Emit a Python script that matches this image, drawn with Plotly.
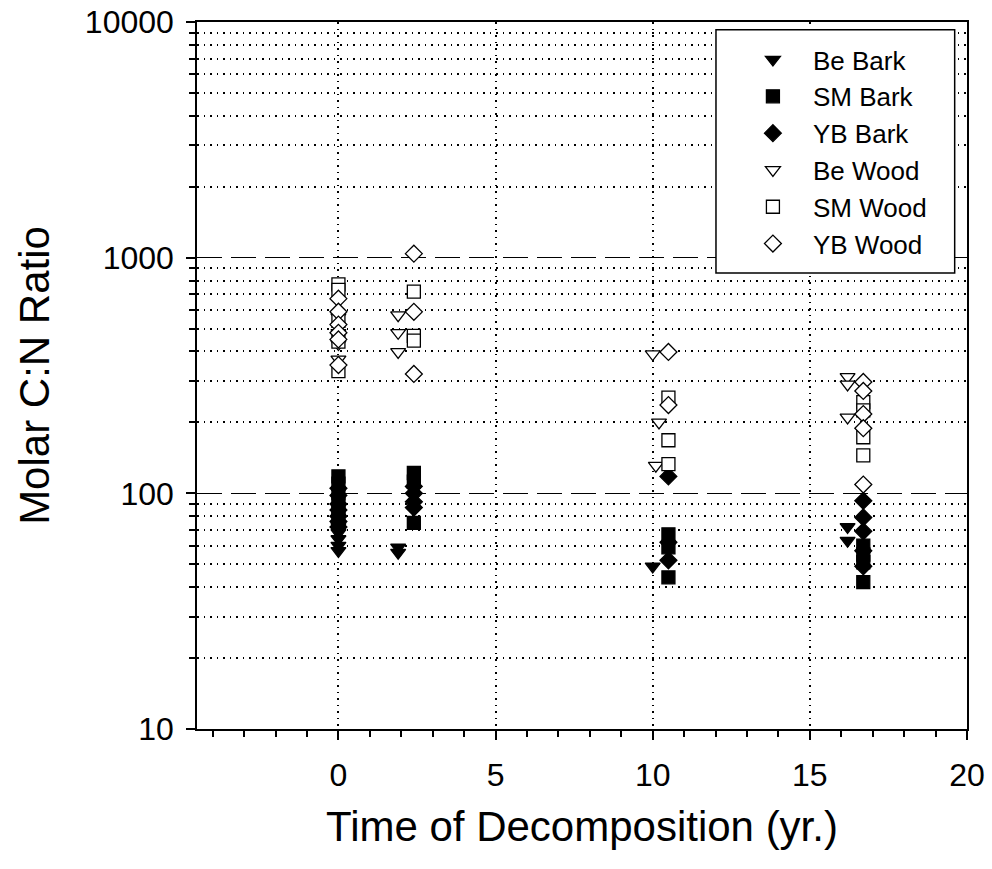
import plotly.graph_objects as go

# ---- data ----
be_bark_x = [0, 0, 0, 0, 0, 0, 1.9, 1.9, 10.0, 16.2, 16.2]
be_bark_y = [78, 72, 68, 64, 60, 57, 59, 56, 49, 72, 63]

sm_bark_x = [0, 0, 0, 0, 0, 0, 2.4, 2.4, 2.4, 10.5, 10.5, 10.5, 16.7, 16.7, 16.7, 16.7]
sm_bark_y = [118, 110, 100, 92, 85, 80, 122, 112, 75, 67, 59, 44, 60, 55, 51, 42]

yb_bark_x = [0, 0, 0, 0, 0, 0, 0, 2.4, 2.4, 2.4, 2.4, 10.5, 10.5, 10.5, 16.7, 16.7, 16.7, 16.7, 16.7]
yb_bark_y = [105, 98, 90, 85, 80, 76, 72, 107, 100, 92, 87, 118, 62, 52, 93, 79, 69, 57, 49]

be_wood_x = [0, 0, 0, 0, 1.9, 1.9, 1.9, 10.0, 10.2, 10.1, 16.2, 16.2, 16.2]
be_wood_y = [560, 480, 430, 370, 570, 480, 398, 390, 200, 131, 312, 290, 210]

sm_wood_x = [0, 0, 0, 0, 0, 2.4, 2.4, 2.4, 10.5, 10.5, 10.5, 16.7, 16.7, 16.7, 16.7]
sm_wood_y = [770, 730, 540, 440, 330, 717, 466, 445, 255, 168, 133, 244, 225, 173, 145]

yb_wood_x = [0, 0, 0, 0, 0, 0, 2.4, 2.4, 2.4, 10.5, 10.5, 16.7, 16.7, 16.7, 16.7, 16.7]
yb_wood_y = [670, 590, 520, 480, 450, 350, 1040, 589, 321, 398, 237, 297, 272, 217, 189, 109]

x_ticks = [0, 5, 10, 15, 20]
y_ticks = [10, 100, 1000, 10000]
y_tick_labels = ["10", "100", "1000", "10000"]
y_minor_ticks = [m * d for d in (10, 100, 1000) for m in range(2, 10)]

FONT = "Liberation Sans, Arial, sans-serif"

series = [
    ("Be Bark", be_bark_x, be_bark_y, "triangle-down", "black"),
    ("SM Bark", sm_bark_x, sm_bark_y, "square", "black"),
    ("YB Bark", yb_bark_x, yb_bark_y, "diamond", "black"),
    ("Be Wood", be_wood_x, be_wood_y, "triangle-down", "white"),
    ("SM Wood", sm_wood_x, sm_wood_y, "square", "white"),
    ("YB Wood", yb_wood_x, yb_wood_y, "diamond", "white"),
]

fig = go.Figure()
for i, (name, xs, ys, sym, fill) in enumerate(series):
    fig.add_trace(go.Scatter(
        x=xs, y=ys, mode="markers", name=name, legendgroup=f"g{i}",
        marker=dict(symbol=sym, size=13, color=fill,
                    line=dict(color="black", width=1.3)),
    ))

fig.update_layout(
    width=992, height=869,
    margin=dict(l=197, r=25, t=22, b=140, autoexpand=False),
    paper_bgcolor="white", plot_bgcolor="white",
    font=dict(family=FONT, color="black", size=32),
    showlegend=True,
    legend=dict(x=0.696, xanchor="left", y=0.98, yanchor="top",
                bgcolor="rgba(0,0,0,0)", borderwidth=0,
                font=dict(size=26, family=FONT),
                tracegroupgap=0, itemwidth=70, traceorder="grouped"),
    shapes=[dict(type="rect", xref="paper", yref="paper",
                 x0=0.674, x1=0.984, y0=0.645, y1=0.989,
                 fillcolor="white", line=dict(color="black", width=1.5),
                 layer="above")],
)

DOT = "1.5px,5px"
fig.update_xaxes(
    range=[-4.5, 20], tickvals=x_ticks, ticks="outside", ticklen=9, tickwidth=1.5,
    tickcolor="black", showline=True, linecolor="black", linewidth=1.5, mirror=True,
    showgrid=True, gridcolor="black", gridwidth=1.5, griddash=DOT, zeroline=False,
    tickfont=dict(size=32), ticklabelstandoff=8, automargin=False,
    ticklabeloverflow="allow",
    minor=dict(dtick=1, ticks="outside", ticklen=6, tickwidth=1.5, tickcolor="black", showgrid=False),
    title=dict(text="Time of Decomposition (yr.)", font=dict(size=42), standoff=19),
)
fig.update_yaxes(
    type="log", range=[1, 4], tickvals=y_ticks, ticktext=y_tick_labels,
    ticks="outside", ticklen=9, tickwidth=1.5,
    tickcolor="black", showline=True, linecolor="black", linewidth=1.5, mirror=True,
    showgrid=True, gridcolor="black", gridwidth=1.3, griddash="25px,9px", zeroline=False,
    tickfont=dict(size=32), ticklabelstandoff=6, automargin=False,
    ticklabeloverflow="allow",
    minor=dict(tickvals=y_minor_ticks, ticks="outside", ticklen=6, tickwidth=1.5, tickcolor="black",
               showgrid=True, gridcolor="black", gridwidth=1.5, griddash=DOT),
    title=dict(text="Molar C:N Ratio", font=dict(size=42), standoff=22),
)

# overlay axes only to give the ticks their inward half (ticks cross the axis lines)
fig.update_layout(
    xaxis2=dict(overlaying="x", anchor="y", side="bottom", range=[-4.5, 20],
                tickvals=x_ticks, ticks="inside", ticklen=8, tickwidth=1.5, tickcolor="black",
                showticklabels=False, showgrid=False, zeroline=False, showline=False,
                automargin=False),
    yaxis2=dict(overlaying="y", anchor="x", side="left", type="log", range=[1, 4],
                tickvals=[], showticklabels=False, showgrid=False, zeroline=False,
                showline=False, automargin=False,
                minor=dict(tickvals=y_minor_ticks, ticks="inside", ticklen=5, tickwidth=1.5,
                           tickcolor="black", showgrid=False)),
)

# remove the browser's default 8px page margin so the figure sits at the page corner
fig.write_html("out.html", config={"displayModeBar": False},
               post_script="document.body.style.margin='0';")
